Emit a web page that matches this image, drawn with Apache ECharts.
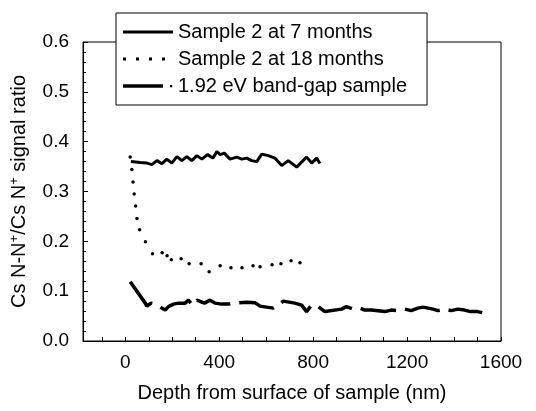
<!DOCTYPE html>
<html>
<head>
    <meta charset="utf-8">
    <title>Cs N-N+/Cs N+ signal ratio</title>
    <script src="https://cdn.jsdelivr.net/npm/echarts@6/dist/echarts.min.js"></script>
    <style>
        html, body { margin: 0; padding: 0; background: #fff; }
    </style>
</head>
<body>
<div id="chart" style="width: 536px;height: 411px"></div>

<script>
    // 数据
    var seriesNames = ['Sample 2 at 7 months', 'Sample 2 at 18 months', '1.92 eV band-gap sample'];

    var depth7 = [24, 64, 92, 113, 135, 156, 177, 198, 220, 241, 262, 283, 305, 326, 350, 373, 390, 404, 422, 446,
        475, 496, 517, 538, 560, 581, 609, 637, 666, 694, 730, 772, 794, 815, 829];
    var ratio7 = [0.360, 0.358, 0.357, 0.354, 0.362, 0.356, 0.365, 0.357, 0.370, 0.362, 0.370, 0.362, 0.372, 0.365,
        0.374, 0.367, 0.380, 0.374, 0.377, 0.365, 0.369, 0.365, 0.367, 0.362, 0.360, 0.375, 0.372, 0.367, 0.352,
        0.362, 0.349, 0.369, 0.357, 0.367, 0.356];

    var depth18 = [21, 28, 33, 38, 44, 50, 61, 86, 116, 157, 178, 196, 238, 272, 323, 357, 404, 450, 497, 544,
        574, 625, 663, 706, 744];
    var ratio18 = [0.369, 0.344, 0.319, 0.295, 0.271, 0.246, 0.223, 0.199, 0.175, 0.177, 0.171, 0.163, 0.165,
        0.155, 0.155, 0.139, 0.151, 0.147, 0.147, 0.151, 0.149, 0.153, 0.155, 0.161, 0.157];

    var depthGap = [21, 85, 92, 110, 128, 170, 184, 205, 227, 255, 269, 286, 305, 337, 361, 382, 411, 439, 460,
        517, 552, 574, 602, 630, 652, 673, 722, 751, 772, 793, 822, 850, 921, 942, 970, 999, 1020, 1048, 1105,
        1133, 1161, 1190, 1218, 1246, 1268, 1310, 1332, 1360, 1388, 1416, 1445, 1470, 1500, 1520];
    var ratioGap = [0.119, 0.076, 0.070, 0.076, 0.074, 0.062, 0.069, 0.074, 0.076, 0.076, 0.082, 0.072, 0.082,
        0.076, 0.082, 0.076, 0.074, 0.074, 0.076, 0.078, 0.077, 0.070, 0.068, 0.066, 0.072, 0.080, 0.076, 0.072,
        0.059, 0.072, 0.069, 0.059, 0.064, 0.069, 0.064, 0.066, 0.062, 0.062, 0.059, 0.062, 0.061, 0.064, 0.061,
        0.066, 0.068, 0.064, 0.061, 0.064, 0.061, 0.064, 0.062, 0.059, 0.059, 0.057];

    var xLabels = [0, 400, 800, 1200, 1600];
    var xTicks = [-100, 0, 100, 200, 300, 400, 500, 600, 700, 800, 900, 1000, 1100, 1200, 1300, 1400, 1500, 1600];

    function pairs(xs, ys) {
        var out = [];
        for (var i = 0; i < xs.length; i++) {
            out.push([xs[i], ys[i]]);
        }
        return out;
    }

    var font = 'Liberation Sans, Arial, sans-serif';
    var myChart = echarts.init(document.getElementById('chart'));

    myChart.setOption({
        animation: false,
        backgroundColor: '#fff',
        grid: {
            left: 82, right: 35, top: 42, bottom: 70,
            show: true, borderColor: '#000', borderWidth: 1
        },
        legend: {
            orient: 'vertical',
            left: 116,
            top: 13,
            padding: [9, 20, 9, 7],
            itemGap: 7,
            itemWidth: 50,
            itemHeight: 14,
            backgroundColor: '#fff',
            borderColor: '#000',
            borderWidth: 1,
            textStyle: { fontFamily: font, fontSize: 20, color: '#000' },
            data: [
                { name: seriesNames[0], icon: 'path://M0,0h50v3h-50z' },
                { name: seriesNames[1], icon: 'path://M0,0h3v3h-3zM13,0h3v3h-3zM26,0h3v3h-3zM39,0h3v3h-3zM49.9,0h0.1v0.1h-0.1z' },
                { name: seriesNames[2], icon: 'path://M0,0h40v3.5h-40zM47,0.8h2.2v2.2h-2.2zM49.9,0h0.1v0.1h-0.1z' }
            ]
        },
        xAxis: {
            type: 'value',
            min: -180,
            max: 1600,
            name: 'Depth from surface of sample (nm)',
            nameLocation: 'middle',
            nameGap: 42,
            nameTextStyle: { fontFamily: font, fontSize: 20, color: '#000' },
            splitLine: { show: false },
            axisLine: { onZero: false, lineStyle: { color: '#000', width: 1 } },
            axisTick: { inside: true, length: 4, customValues: xTicks, lineStyle: { color: '#000' } },
            axisLabel: {
                customValues: xLabels, fontFamily: font, fontSize: 19, color: '#000', margin: 12,
                formatter: function (v) { return String(v); }
            }
        },
        yAxis: {
            type: 'value',
            min: 0,
            max: 0.6,
            interval: 0.1,
            name: 'Cs N-N{sup|+}/Cs N{sup|+} signal ratio',
            nameLocation: 'middle',
            nameGap: 52,
            nameTextStyle: {
                fontFamily: font, fontSize: 20, color: '#000',
                rich: {
                    sup: { fontFamily: font, fontSize: 13, color: '#000', padding: [0, 0, 10, 0] }
                }
            },
            splitLine: { show: false },
            axisLine: { onZero: false, lineStyle: { color: '#000', width: 1 } },
            axisTick: { inside: true, length: 5, lineStyle: { color: '#000' } },
            minorTick: { show: true, splitNumber: 5, length: 3, lineStyle: { color: '#000' } },
            axisLabel: {
                fontFamily: font, fontSize: 19, color: '#000', margin: 14,
                formatter: function (v) { return v.toFixed(1); }
            }
        },
        series: [
            {
                name: seriesNames[0],
                type: 'line',
                data: pairs(depth7, ratio7),
                symbol: 'none',
                color: '#000',
                lineStyle: { color: '#000', width: 3 }
            },
            {
                name: seriesNames[1],
                type: 'line',
                data: pairs(depth18, ratio18),
                symbol: 'circle',
                symbolSize: 3.5,
                showSymbol: true,
                color: '#000',
                itemStyle: { color: '#000' },
                lineStyle: { width: 0, opacity: 0 }
            },
            {
                name: seriesNames[2],
                type: 'line',
                data: pairs(depthGap, ratioGap),
                symbol: 'none',
                color: '#000',
                lineStyle: { color: '#000', width: 3.5, type: [36, 9] }
            }
        ]
    });
</script>
</body>
</html>
